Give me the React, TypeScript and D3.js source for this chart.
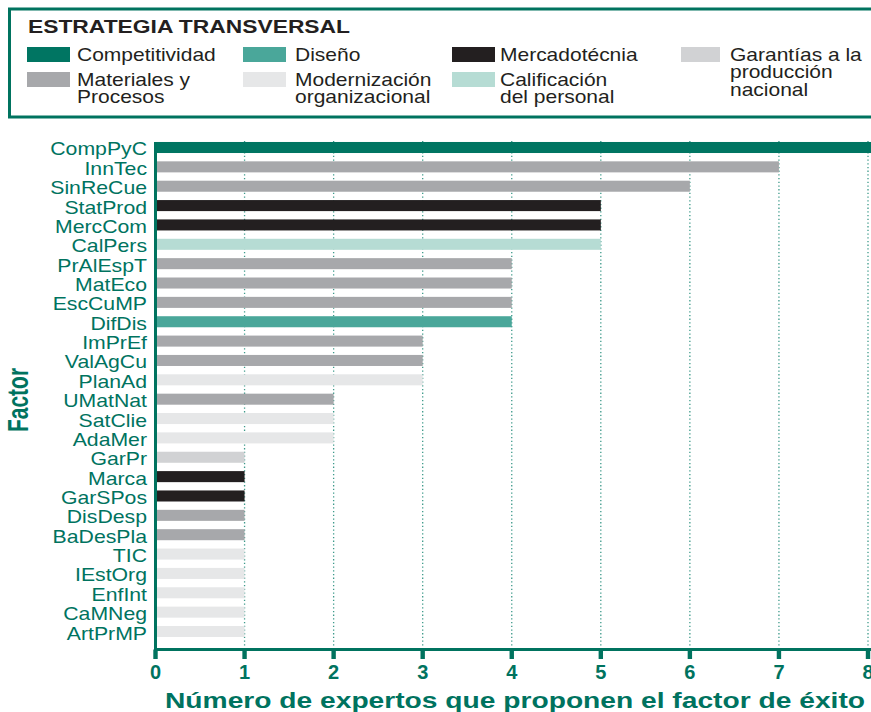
import React from 'react';
import * as d3 from 'd3';

const factors = [
  'CompPyC', 'InnTec', 'SinReCue', 'StatProd', 'MercCom', 'CalPers', 'PrAlEspT', 'MatEco',
  'EscCuMP', 'DifDis', 'ImPrEf', 'ValAgCu', 'PlanAd', 'UMatNat', 'SatClie', 'AdaMer',
  'GarPr', 'Marca', 'GarSPos', 'DisDesp', 'BaDesPla', 'TIC', 'IEstOrg', 'EnfInt', 'CaMNeg', 'ArtPrMP',
];
const experts = [8, 7, 6, 5, 5, 5, 4, 4, 4, 4, 3, 3, 3, 2, 2, 2, 1, 1, 1, 1, 1, 1, 1, 1, 1, 1];
const strategy = [
  'Competitividad', 'Materiales', 'Materiales', 'Mercadotecnia', 'Mercadotecnia', 'Calificacion',
  'Materiales', 'Materiales', 'Materiales', 'Diseno', 'Materiales', 'Materiales', 'Modernizacion',
  'Materiales', 'Modernizacion', 'Modernizacion', 'Garantias', 'Mercadotecnia', 'Mercadotecnia',
  'Materiales', 'Materiales', 'Modernizacion', 'Modernizacion', 'Modernizacion', 'Modernizacion', 'Modernizacion',
];

const strategyKeys = ['Competitividad', 'Diseno', 'Mercadotecnia', 'Garantias', 'Materiales', 'Modernizacion', 'Calificacion'];
const strategyColors = ['#007562', '#4aa79a', '#231f20', '#d1d2d4', '#a7a8ab', '#e6e7e8', '#b6dcd4'];
const strategyLabels = [
  ['Competitividad'],
  ['Diseño'],
  ['Mercadotécnia'],
  ['Garantías a la', 'producción', 'nacional'],
  ['Materiales y', 'Procesos'],
  ['Modernización', 'organizacional'],
  ['Calificación', 'del personal'],
];
const legendCol = [0, 1, 2, 3, 0, 1, 2];
const legendRow = [0, 0, 0, 0, 1, 1, 1];

const xTicks = [0, 1, 2, 3, 4, 5, 6, 7, 8];
const legendTitle = 'ESTRATEGIA TRANSVERSAL';
const xTitle = 'Número de expertos que proponen el factor de éxito';
const yTitle = 'Factor';

const TEAL = '#00735f';
const FONT = '"Liberation Sans", Arial, Helvetica, sans-serif';

export default function App() {
  const W = 871;
  const H = 712;
  const x = d3.scaleLinear().domain([0, 8]).range([155.5, 868]);
  const y = d3.scaleBand<string>().domain(factors).range([132.3, 646.7]).paddingInner(0.43).paddingOuter(0.5);
  const color = d3.scaleOrdinal<string, string>().domain(strategyKeys).range(strategyColors);

  const colX = [27, 243, 452, 681];
  const colW = [43, 43, 43, 39];
  const rowY = [47, 72];
  const textX = [77, 295, 500, 730];
  const axisY = 649.5;

  return (
    <svg width={W} height={H} style={{ position: 'absolute', left: 0, top: 0, background: '#fff' }} fontFamily={FONT}>
      <rect x={0} y={0} width={W} height={H} fill="#fff" />
      {/* legend box */}
      <rect x={9.5} y={9} width={900} height={108} fill="none" stroke={TEAL} strokeWidth={3} />
      <text x={28} y={33} fontSize={18.5} fontWeight="bold" fill="#231f20" textLength={322} lengthAdjust="spacingAndGlyphs">
        {legendTitle}
      </text>
      {strategyKeys.map((k, i) => {
        const c = legendCol[i];
        const r = legendRow[i];
        return (
          <g key={k}>
            <rect x={colX[c]} y={rowY[r]} width={colW[c]} height={15} fill={color(k)} />
            {strategyLabels[i].map((line, j) => (
              <text
                key={j}
                transform={`translate(${textX[c]},${rowY[r] + 14 + j * 17.3}) scale(1.2,1)`}
                fontSize={17.5}
                fill="#231f20"
              >
                {line}
              </text>
            ))}
          </g>
        );
      })}

      {/* gridlines */}
      {xTicks.filter((t) => t > 0).map((t) => (
        <line
          key={t}
          x1={x(t)}
          x2={x(t)}
          y1={141}
          y2={axisY}
          stroke="#3d9a8a"
          strokeWidth={1.3}
          strokeDasharray="1.3,2.4"
        />
      ))}

      {/* bars */}
      {factors.map((f, i) => (
        <rect
          key={f}
          x={x(0)}
          y={y(f)}
          width={x(experts[i]) - x(0) + (experts[i] === 8 ? 3 : 0)}
          height={y.bandwidth()}
          fill={color(strategy[i])}
        />
      ))}

      {/* category labels */}
      {factors.map((f) => (
        <text
          key={f}
          transform={`translate(147,${(y(f) as number) + y.bandwidth() / 2 + 8}) scale(1.18,1)`}
          textAnchor="end"
          fontSize={18}
          fill={TEAL}
        >
          {f}
        </text>
      ))}

      {/* axes */}
      <line x1={x(0)} x2={x(0)} y1={142} y2={axisY + 1.5} stroke={TEAL} strokeWidth={3} />
      <line x1={x(0) - 1.5} x2={W} y1={axisY} y2={axisY} stroke={TEAL} strokeWidth={3} />
      {xTicks.map((t) => (
        <g key={t}>
          <rect x={x(t) - 2.2} y={axisY} width={4.4} height={9.5} fill={TEAL} />
          <text x={x(t)} y={679} textAnchor="middle" fontSize={20} fontWeight="bold" fill={TEAL}>
            {t}
          </text>
        </g>
      ))}
      <text x={165} y={708} fontSize={22} fontWeight="bold" fill={TEAL} textLength={700} lengthAdjust="spacingAndGlyphs">
        {xTitle}
      </text>
      <text
        transform="translate(28,400) rotate(-90) scale(1,1.4)"
        textAnchor="middle"
        fontSize={21}
        fontWeight="bold"
        fill={TEAL}
      >
        {yTitle}
      </text>
    </svg>
  );
}
